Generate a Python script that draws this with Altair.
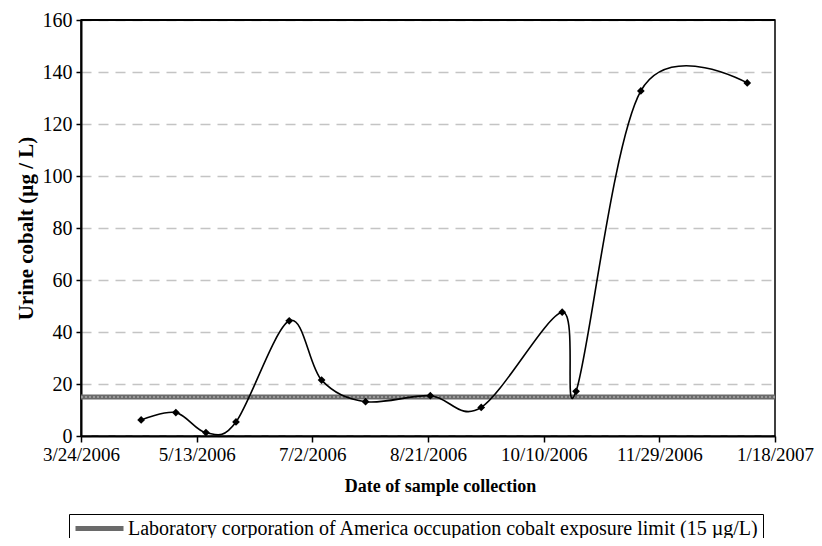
import altair as alt
import pandas as pd

dates = ["2006-04-19", "2006-05-04", "2006-05-17", "2006-05-30", "2006-06-22",
         "2006-07-06", "2006-07-25", "2006-08-22", "2006-09-13", "2006-10-18",
         "2006-10-24", "2006-11-21", "2007-01-06"]
cobalt = [6.2, 9.0, 1.3, 5.4, 44.3, 21.5, 13.2, 15.5, 11.0, 47.6, 17.2, 132.7, 135.8]

tick_dates = [(2006, 3, 24), (2006, 5, 13), (2006, 7, 2), (2006, 8, 21),
              (2006, 10, 10), (2006, 11, 29), (2007, 1, 18)]
y_max = 160
limit_value = 15
limit_label = "Laboratory corporation of America occupation cobalt exposure limit (15 µg/L)"

df = pd.DataFrame({"date": dates, "cobalt": cobalt})
limit_df = pd.DataFrame({"y": [limit_value], "label": [limit_label]})

FONT = "Liberation Serif"
tick_vals = [alt.DateTime(year=y, month=m, date=d, utc=True) for (y, m, d) in tick_dates]

x_enc = alt.X(
    "date:T",
    scale=alt.Scale(type="utc", domain=[tick_vals[0], tick_vals[-1]], nice=False),
    axis=alt.Axis(values=tick_vals, labelExpr="utcFormat(datum.value, '%-m/%-d/%Y')",
                  title="Date of sample collection", grid=False,
                  labelFontSize=19, titleFontSize=18, tickSize=6,
                  labelPadding=3, titlePadding=13, labelFlush=False, titleX=359),
)
y_scale = alt.Scale(domain=[0, y_max], nice=False)
y_axis = alt.Axis(values=list(range(0, y_max + 1, 20)), title="Urine cobalt (µg / L)",
                  grid=True, gridDash=[10, 7], gridColor="#c4c4c4", gridWidth=1.5,
                  labelFontSize=20, titleFontSize=21, tickSize=5, labelPadding=4,
                  titlePadding=6)

line = alt.Chart(df).mark_line(interpolate="cardinal", color="black", strokeWidth=1.6).encode(
    x=x_enc,
    y=alt.Y("cobalt:Q", scale=y_scale, axis=y_axis),
)
points = alt.Chart(df).mark_point(shape="diamond", filled=True, color="black", size=60, opacity=1).encode(
    x=alt.X("date:T"),
    y=alt.Y("cobalt:Q"),
)
top_border = alt.Chart(df).mark_rule(color="black", strokeWidth=1.8).encode(
    y=alt.datum(y_max),
)
rule = alt.Chart(limit_df).mark_rule(strokeWidth=5).encode(
    y=alt.Y("y:Q"),
    color=alt.Color("label:N",
                    scale=alt.Scale(range=["#6a6a6a"]),
                    legend=alt.Legend(title=None, orient="none", legendX=-12, legendY=494,
                                      symbolType="M-1,0L5,0", symbolSize=256,
                                      symbolStrokeWidth=5, labelFontSize=20,
                                      labelFont=FONT, labelColor="black", labelLimit=800,
                                      labelOffset=34, strokeColor="black", padding=4,
                                      direction="horizontal")),
)
rule_tex = alt.Chart(limit_df).mark_rule(strokeWidth=1.5, color="#a8a8a8", strokeDash=[2, 2]).encode(
    y=alt.Y("y:Q"),
)

chart = alt.layer(rule, rule_tex, top_border, line, points).properties(
    width=694, height=416,
    autosize=alt.AutoSizeParams(type="none"),
    padding={"left": 73, "top": 12, "right": 39, "bottom": 102},
).configure(
    background="white"
).configure_view(
    stroke="black", strokeWidth=1.5
).configure_axis(
    labelFont=FONT, titleFont=FONT, labelColor="black", titleColor="black",
    domainColor="black", domainWidth=2, tickColor="black", tickWidth=1.5,
    titleFontWeight="bold"
)

chart.save("out.html", embed_options={"renderer": "svg", "actions": False})
